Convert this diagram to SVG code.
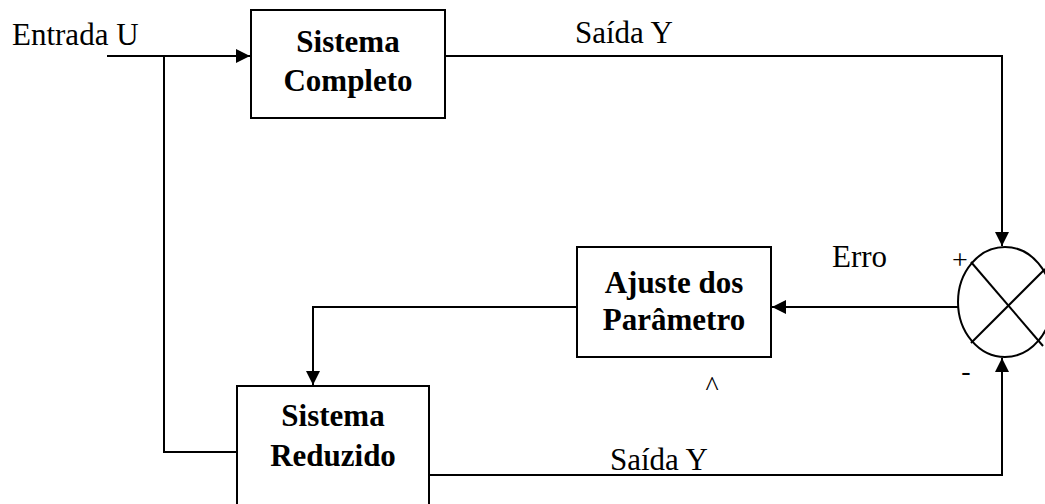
<svg xmlns="http://www.w3.org/2000/svg" width="1045" height="504" viewBox="0 0 1045 504">
<style>
.box{fill:#fff;stroke:#000;stroke-width:2}
.ln{fill:none;stroke:#000;stroke-width:2}
.t{font-family:"Liberation Serif","Times New Roman",serif;font-size:31px;fill:#000}
.s{font-family:"Liberation Serif","Times New Roman",serif;font-size:28px;fill:#000;text-anchor:middle}
.b{font-family:"Liberation Serif","Times New Roman",serif;font-size:31px;font-weight:bold;fill:#000;text-anchor:middle}
</style>
<defs>
<marker id="arr" markerUnits="userSpaceOnUse" markerWidth="15" markerHeight="14" refX="14" refY="7" orient="auto">
<path d="M0,0 L14,7 L0,14 z" fill="#000"/>
</marker>
</defs>
<g id="connectors">
<path class="ln" d="M107,56 L250,56" marker-end="url(#arr)"/>
<path class="ln" d="M164,56 L164,452 L237,452"/>
<path class="ln" d="M445,56 L1002,56 L1002,246" marker-end="url(#arr)"/>
<path class="ln" d="M429,475 L1002,475 L1002,358" marker-end="url(#arr)"/>
<path class="ln" d="M958,307 L772,307" marker-end="url(#arr)"/>
<path class="ln" d="M577,307 L313,307 L313,385" marker-end="url(#arr)"/>
</g>
<g id="input-label">
<text class="t" x="12" y="45">Entrada U</text>
</g>
<g id="sistema-completo">
<rect class="box" x="251" y="10" width="194" height="108"/>
<text class="b" x="348" y="52">Sistema</text>
<text class="b" x="348" y="91">Completo</text>
</g>
<g id="saida-y-label">
<text class="t" x="575" y="43">Saída Y</text>
</g>
<g id="ajuste">
<rect class="box" x="577" y="247" width="194" height="110"/>
<text class="b" x="674" y="293">Ajuste dos</text>
<text class="b" x="674" y="330">Parâmetro</text>
</g>
<g id="erro-label">
<text class="t" x="832" y="267">Erro</text>
</g>
<g id="somador">
<ellipse class="ln" cx="1005" cy="302" rx="47" ry="55"/>
<line class="ln" x1="971" y1="262" x2="1043" y2="346"/>
<line class="ln" x1="971" y1="343" x2="1045" y2="269"/>
<text class="s" x="960" y="269">+</text>
<text class="s" x="966" y="380">-</text>
</g>
<g id="sistema-reduzido">
<rect class="box" x="237" y="386" width="192" height="130"/>
<text class="b" x="333" y="426">Sistema</text>
<text class="b" x="333" y="466">Reduzido</text>
</g>
<g id="saida-y-hat-label">
<text class="s" x="712" y="395">^</text>
<text class="t" x="610" y="470">Saída Y</text>
</g>
</svg>
